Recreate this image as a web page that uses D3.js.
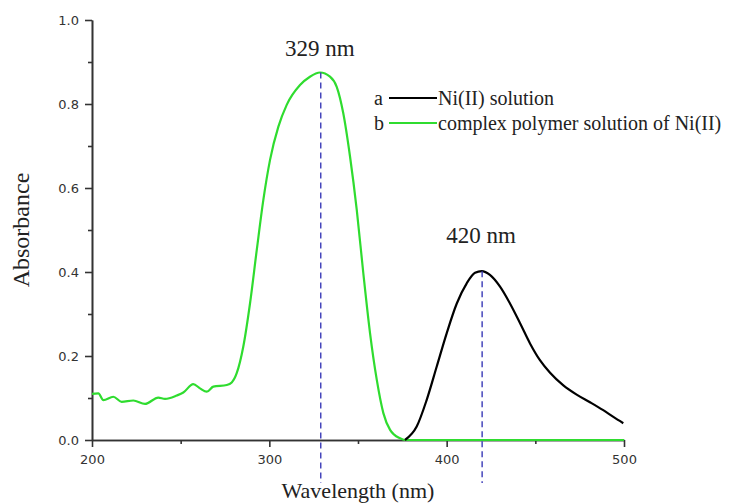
<!DOCTYPE html>
<meta charset="utf-8">
<style>
body { margin: 0; background: #fff; }
.axis path, .axis line { stroke: #333; }
.axis text { font-family: "DejaVu Sans", Verdana, sans-serif; font-size: 13px; fill: #333; }
.serif { font-family: "Liberation Serif", "Times New Roman", serif; fill: #222; }
</style>
<div id="chart"></div>
<script src="https://cdn.jsdelivr.net/npm/d3@7"></script>
<script>

// complex polymer solution of Ni(II) (curve b)
var wlB = [200, 203.6, 206.4, 212, 216.7, 223.3, 229.9, 237.4, 241.2, 247.8, 251.5, 257.1, 260.9, 264.7, 268.4, 276, 278.8,
           281.6, 285.3, 289.1, 292.9, 296.6, 300.4, 305.1, 309.8, 317.3, 322.9, 328.6, 334.2, 338, 341.7, 345.5, 349.3,
           353, 356.8, 360.6, 364.3, 368.1, 373.7, 376.5, 400, 450, 500];
var absB = [0.110, 0.111, 0.095, 0.103, 0.091, 0.094, 0.086, 0.101, 0.098, 0.106, 0.113, 0.133, 0.123, 0.115, 0.127, 0.131, 0.137,
            0.159, 0.222, 0.325, 0.452, 0.571, 0.667, 0.746, 0.798, 0.845, 0.865, 0.875, 0.865, 0.841, 0.778, 0.675, 0.548,
            0.397, 0.254, 0.143, 0.064, 0.024, 0.004, 0.0, 0.0, 0.0, 0.0];

// Ni(II) solution (curve a)
var wlA = [376.5, 383.1, 388.7, 394.4, 400, 405.7, 411.3, 416, 419.8, 424.4, 430.1, 435.7, 441.4, 447, 452.6,
           458.3, 465.8, 473.3, 480.8, 488.3, 494, 499.6];
var absA = [0.0, 0.032, 0.095, 0.175, 0.254, 0.325, 0.373, 0.398, 0.402, 0.393, 0.365, 0.325, 0.278, 0.230, 0.190,
            0.160, 0.130, 0.108, 0.090, 0.071, 0.055, 0.040];

var peaks = [329, 420];
var peakLabels = ["329 nm", "420 nm"];
var peakVals = [0.875, 0.402];

var legendKeys = ["a", "b"];
var legendNames = ["Ni(II) solution", "complex polymer solution of Ni(II)"];
var legendColors = ["#000", "#2fdc2f"];

var xTicks = [200, 300, 400, 500];
var yTicks = [0, 0.2, 0.4, 0.6, 0.8, 1.0];

var width = 732, height = 503;
var margin = {left: 92, top: 20, right: 108, bottom: 63};
var labelGap = [17, 28];

var svg = d3.select("#chart").append("svg")
    .attr("width", width)
    .attr("height", height);

var x = d3.scaleLinear().domain([200, 500]).range([margin.left, width - margin.right]);
var y = d3.scaleLinear().domain([0, 1]).range([height - margin.bottom, margin.top]);

// axes
svg.append("g").attr("class", "axis")
    .attr("transform", "translate(0," + y(0) + ")")
    .call(d3.axisBottom(x).tickValues(xTicks).tickSize(7).tickPadding(8).tickSizeOuter(0));
svg.append("g").attr("class", "axis")
    .attr("transform", "translate(0," + y(0) + ")")
    .call(d3.axisBottom(x).tickValues([250, 350, 450]).tickSize(4).tickFormat("").tickSizeOuter(0));

svg.append("g").attr("class", "axis")
    .attr("transform", "translate(" + x(200) + ",0)")
    .call(d3.axisLeft(y).tickValues(yTicks).tickFormat(d3.format(".1f")).tickSize(7).tickPadding(6).tickSizeOuter(0));
svg.append("g").attr("class", "axis")
    .attr("transform", "translate(" + x(200) + ",0)")
    .call(d3.axisLeft(y).tickValues([0.1, 0.3, 0.5, 0.7, 0.9]).tickSize(4).tickFormat("").tickSizeOuter(0));

svg.selectAll(".axis path, .axis line").style("stroke-width", 1.6);

// curves
var line = d3.line()
    .x(function(d) { return x(d[0]); })
    .y(function(d) { return y(d[1]); })
    .curve(d3.curveMonotoneX);

svg.append("path")
    .datum(d3.zip(wlB, absB))
    .attr("d", line)
    .attr("fill", "none")
    .attr("stroke", legendColors[1])
    .attr("stroke-width", 2.2);

svg.append("path")
    .datum(d3.zip(wlA, absA))
    .attr("d", line)
    .attr("fill", "none")
    .attr("stroke", legendColors[0])
    .attr("stroke-width", 2.2);

// peak markers
peaks.forEach(function(p, i) {
  svg.append("line")
      .attr("x1", x(p)).attr("x2", x(p))
      .attr("y1", y(peakVals[i])).attr("y2", y(0) + 43)
      .attr("stroke", "#3a3ab8")
      .attr("stroke-width", 1.4)
      .attr("stroke-dasharray", "6,4");
  svg.append("text")
      .attr("class", "serif")
      .attr("x", x(p) - 1)
      .attr("y", y(peakVals[i]) - labelGap[i])
      .attr("text-anchor", "middle")
      .style("font-size", "23px")
      .text(peakLabels[i]);
});

// legend
legendKeys.forEach(function(k, i) {
  var ly = 98 + i * 25;
  svg.append("text").attr("class", "serif")
      .attr("x", 374).attr("y", ly + 7)
      .style("font-size", "20px")
      .text(k);
  svg.append("line")
      .attr("x1", 389).attr("x2", 437)
      .attr("y1", ly).attr("y2", ly)
      .attr("stroke", legendColors[i])
      .attr("stroke-width", 2.2);
  svg.append("text").attr("class", "serif")
      .attr("x", 438).attr("y", ly + 7)
      .style("font-size", "20px")
      .text(legendNames[i]);
});

// axis titles
svg.append("text").attr("class", "serif")
    .attr("transform", "translate(29," + y(0.5) + ") rotate(-90)")
    .attr("text-anchor", "middle")
    .style("font-size", "24px")
    .text("Absorbance");

svg.append("text").attr("class", "serif")
    .attr("x", (x(200) + x(500)) / 2)
    .attr("y", 498)
    .attr("text-anchor", "middle")
    .style("font-size", "22px")
    .text("Wavelength (nm)");
</script>
